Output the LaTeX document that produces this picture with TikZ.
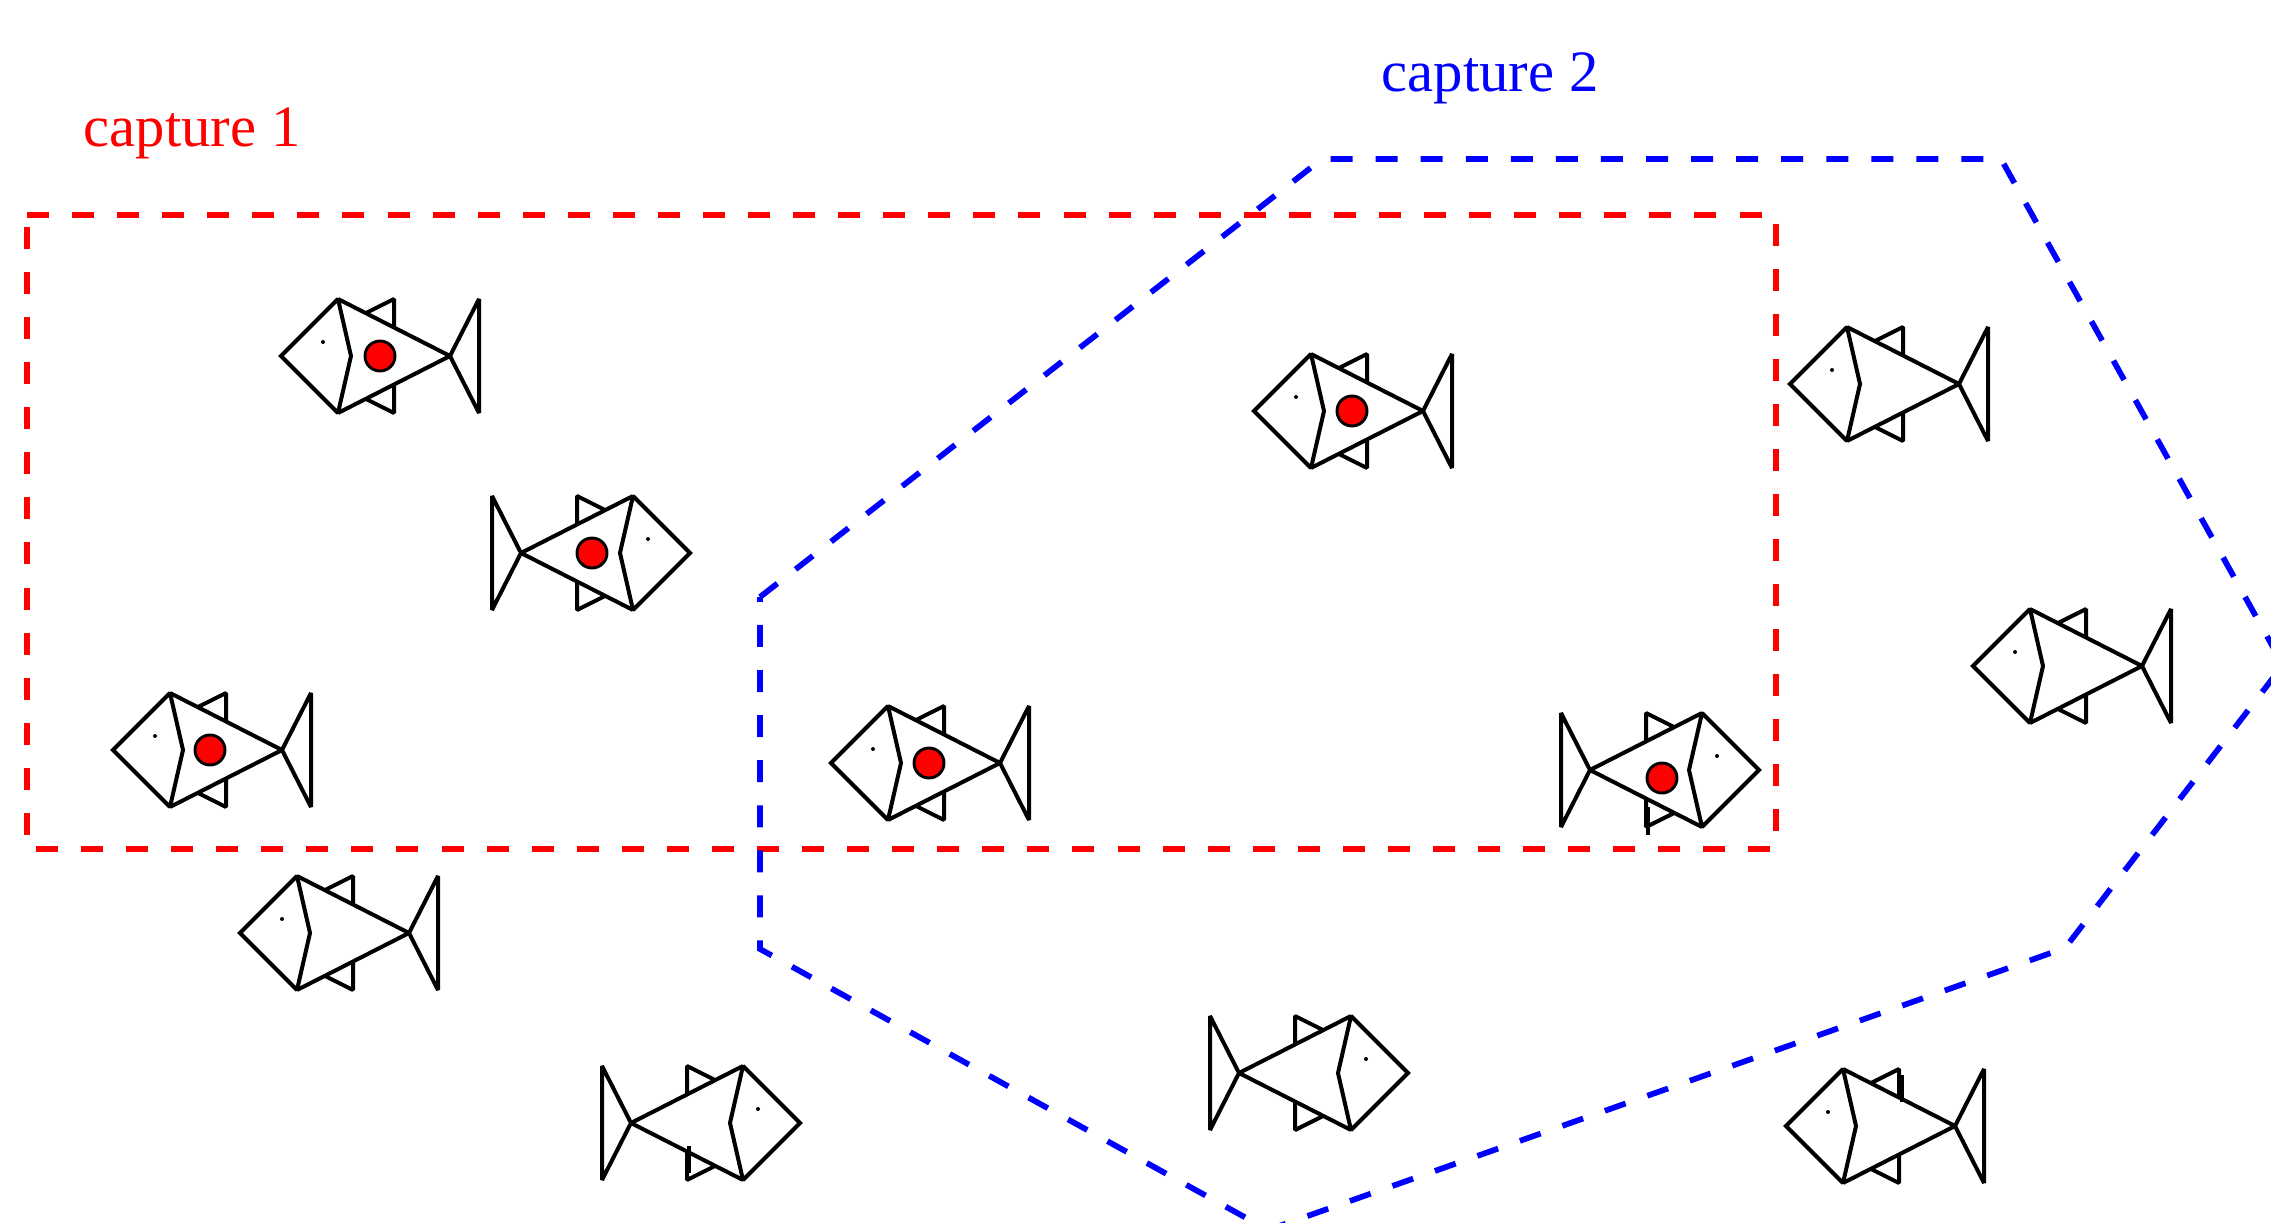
\documentclass[tikz,border=0pt]{standalone}
\usepackage{fontspec}
\setmainfont{Liberation Serif}

\tikzset{
  fishline/.style={line width=3pt, line join=miter, miter limit=1.5},
  % one fish, head to the left, origin where head meets body
  pics/fish/.style={code={
    \draw[fishline] (-57,0) -- (0,-57) -- (13,0) -- (0,57) -- cycle;
    \draw[fishline] (0,-57) -- (112,0) -- (0,57);
    \draw[fishline] (112,0) -- (141,-57) -- (141,57) -- cycle;
    \draw[fishline] (28,-43) -- (56,-57) -- (56,-28.5);
    \draw[fishline] (28,43) -- (56,57) -- (56,28.5);
    \fill (-15,14) circle (2);
  }},
  tag/.style={circle, draw, fill=red, line width=2.2pt, minimum size=22.5pt, inner sep=0pt},
  stub/.style={line width=3.6pt},
  netline/.style={line width=4.3pt, dash pattern=on 16.5pt off 17.3pt},
  caption/.style={anchor=base, inner sep=0pt, font=\fontsize{44}{50}\selectfont}
}

\begin{document}
\begin{tikzpicture}[x=0.75pt,y=0.75pt,yscale=-1,xscale=1]
\useasboundingbox (0,0) rectangle (2271,1223);
\clip (0,0) rectangle (2271,1223);

%Shape: Rectangle, first capture
\draw[netline, red] (27,215) -- (1776,215) -- (1776,849) -- (27,849) -- cycle;
%Shape: Polygon, second capture
\draw[netline, blue] (760,597) -- (1322,159) -- (2001,159) -- (2283,665) -- (2065,948) -- (1268,1230) -- (760,949) -- cycle;

%Fish facing left
\pic at (338,356) {fish};
\pic at (170,750) {fish};
\pic at (888,763) {fish};
\pic at (1311,411) {fish};
\pic at (297,933) {fish};
\pic at (1847,384) {fish};
\pic at (2030,666) {fish};
\pic at (1843,1126) {fish};
%Fish facing right
\pic[xscale=-1] at (633,553) {fish};
\pic[xscale=-1] at (1702,770) {fish};
\pic[xscale=-1] at (743,1123) {fish};
\pic[xscale=-1] at (1351,1073) {fish};

%Marked fish
\node[tag] (tagA) at (380,356) {};
\node[tag] (tagB) at (592,553) {};
\node[tag] (tagC) at (210,750) {};
\node[tag] (tagD) at (929,763) {};
\node[tag] (tagE) at (1662,778) {};
\node[tag] (tagF) at (1352,411) {};

%Small strokes on the fins
\draw[stub] (1648,807) -- (1648,835);
\draw[stub] (689,1146) -- (689,1173);
\draw[stub] (1902,1075) -- (1902,1102);

% Text Node
\node[caption, text=red] (cap1) at (192,147) {capture 1};
% Text Node
\node[caption, text=blue] (cap2) at (1490,92) {capture 2};

\end{tikzpicture}
\end{document}
